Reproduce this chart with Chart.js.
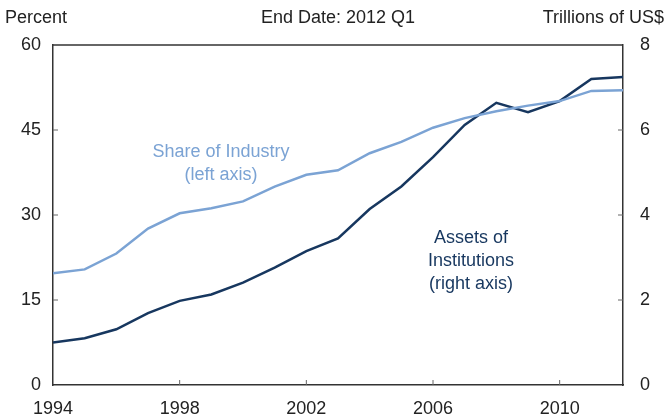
<!DOCTYPE html>
<html lang="en">
<head>
    <meta charset="UTF-8">
    <title>Share of Industry and Assets of Institutions</title>
    <style>
        html, body { margin: 0; padding: 0; background: #fff; }
        .chart-container { width: 666px; height: 417px; }
    </style>
</head>
<body>
    <div class="chart-container">
        <canvas id="myChart"></canvas>
    </div>

    <script src="https://cdn.jsdelivr.net/npm/chart.js"></script>
    <script>
        // data (annual, last point = 2012 Q1)
        const years = [1994, 1995, 1996, 1997, 1998, 1999, 2000, 2001, 2002, 2003,
                       2004, 2005, 2006, 2007, 2008, 2009, 2010, 2011, 2012];
        const shareOfIndustry = [19.7, 20.4, 23.2, 27.6, 30.3, 31.2, 32.4, 35.0, 37.1, 37.9,
                                 40.9, 42.9, 45.4, 47.1, 48.3, 49.3, 50.1, 51.9, 52.0];
        const assetsOfInstitutions = [1.00, 1.10, 1.31, 1.69, 1.98, 2.13, 2.41, 2.76, 3.15, 3.45,
                                      4.14, 4.67, 5.36, 6.12, 6.64, 6.42, 6.68, 7.20, 7.25];
        const leftTicks = [0, 15, 30, 45, 60];
        const rightTicks = [0, 2, 4, 6, 8];
        const yearTicks = [1994, 1998, 2002, 2006, 2010];

        const lightBlue = '#7ba3d4';
        const navy = '#17375f';
        const axisColor = '#333333';
        const font = { family: '"Liberation Sans", Arial, sans-serif', size: 18 };

        const ctx = document.getElementById('myChart').getContext('2d');

        const myChart = new Chart(ctx, {
            type: 'line',
            data: {
                datasets: [{
                    label: 'Share of Industry',
                    data: years.map((y, i) => ({ x: y, y: shareOfIndustry[i] })),
                    borderColor: lightBlue,
                    borderWidth: 2.5,
                    pointRadius: 0,
                    tension: 0,
                    yAxisID: 'y'
                }, {
                    label: 'Assets of Institutions',
                    data: years.map((y, i) => ({ x: y, y: assetsOfInstitutions[i] })),
                    borderColor: navy,
                    borderWidth: 2.5,
                    pointRadius: 0,
                    tension: 0,
                    yAxisID: 'y1'
                }]
            },
            options: {
                responsive: true,
                maintainAspectRatio: false,
                animation: false,
                layout: { padding: { top: 45, left: 0, right: 0, bottom: 0 } },
                plugins: {
                    legend: { display: false },
                    tooltip: { enabled: false }
                },
                scales: {
                    x: {
                        type: 'linear',
                        min: 1994,
                        max: 2012,
                        afterBuildTicks: (s) => { s.ticks = yearTicks.map(v => ({ value: v })); },
                        afterFit: (s) => { s.height = 32; },
                        grid: { display: false, drawTicks: false },
                        border: { display: true, color: axisColor, width: 1.5 },
                        ticks: { color: '#222', font: font, padding: 13, maxRotation: 0, autoSkip: false,
                                 callback: (v) => String(v) }
                    },
                    y: {
                        position: 'left',
                        min: 0,
                        max: 60,
                        afterBuildTicks: (s) => { s.ticks = leftTicks.map(v => ({ value: v })); },
                        afterFit: (s) => { s.width = 53; },
                        grid: { display: false, drawTicks: false },
                        border: { display: true, color: axisColor, width: 1.5 },
                        ticks: { color: '#222', font: font, padding: 12 }
                    },
                    y1: {
                        position: 'right',
                        min: 0,
                        max: 8,
                        afterBuildTicks: (s) => { s.ticks = rightTicks.map(v => ({ value: v })); },
                        afterFit: (s) => { s.width = 43; },
                        grid: { display: false, drawTicks: false },
                        border: { display: true, color: axisColor, width: 1.5 },
                        ticks: { color: '#222', font: font, padding: 17 }
                    }
                }
            },
            plugins: [{
                id: 'frame-and-text',
                afterDraw: (chart) => {
                    const c = chart.ctx;
                    const a = chart.chartArea;
                    const { x, y, y1 } = chart.scales;
                    c.save();

                    // top border of the box
                    c.strokeStyle = axisColor;
                    c.lineWidth = 1.5;
                    c.beginPath();
                    c.moveTo(a.left, a.top);
                    c.lineTo(a.right, a.top);
                    c.stroke();

                    // small inward tick marks
                    c.lineWidth = 1;
                    c.strokeStyle = '#666';
                    c.beginPath();
                    yearTicks.slice(1).forEach(v => {
                        const px = x.getPixelForValue(v);
                        c.moveTo(px, a.bottom);
                        c.lineTo(px, a.bottom - 5);
                    });
                    leftTicks.slice(1, -1).forEach(v => {
                        const py = y.getPixelForValue(v);
                        c.moveTo(a.left, py);
                        c.lineTo(a.left + 5, py);
                    });
                    rightTicks.slice(1, -1).forEach(v => {
                        const py = y1.getPixelForValue(v);
                        c.moveTo(a.right, py);
                        c.lineTo(a.right - 5, py);
                    });
                    c.stroke();

                    // header texts
                    c.font = '18px "Liberation Sans", Arial, sans-serif';
                    c.fillStyle = '#222';
                    c.textBaseline = 'alphabetic';
                    c.textAlign = 'left';
                    c.fillText('Percent', 5, 23);
                    c.textAlign = 'center';
                    c.fillText('End Date: 2012 Q1', 338, 23);
                    c.textAlign = 'right';
                    c.fillText('Trillions of US$', 664, 23);

                    // series annotations
                    c.textAlign = 'center';
                    c.fillStyle = lightBlue;
                    c.fillText('Share of Industry', 221, 157);
                    c.fillText('(left axis)', 221, 180);
                    c.fillStyle = navy;
                    c.fillText('Assets of', 471, 243);
                    c.fillText('Institutions', 471, 266);
                    c.fillText('(right axis)', 471, 289);

                    c.restore();
                }
            }]
        });
    </script>
</body>
</html>
